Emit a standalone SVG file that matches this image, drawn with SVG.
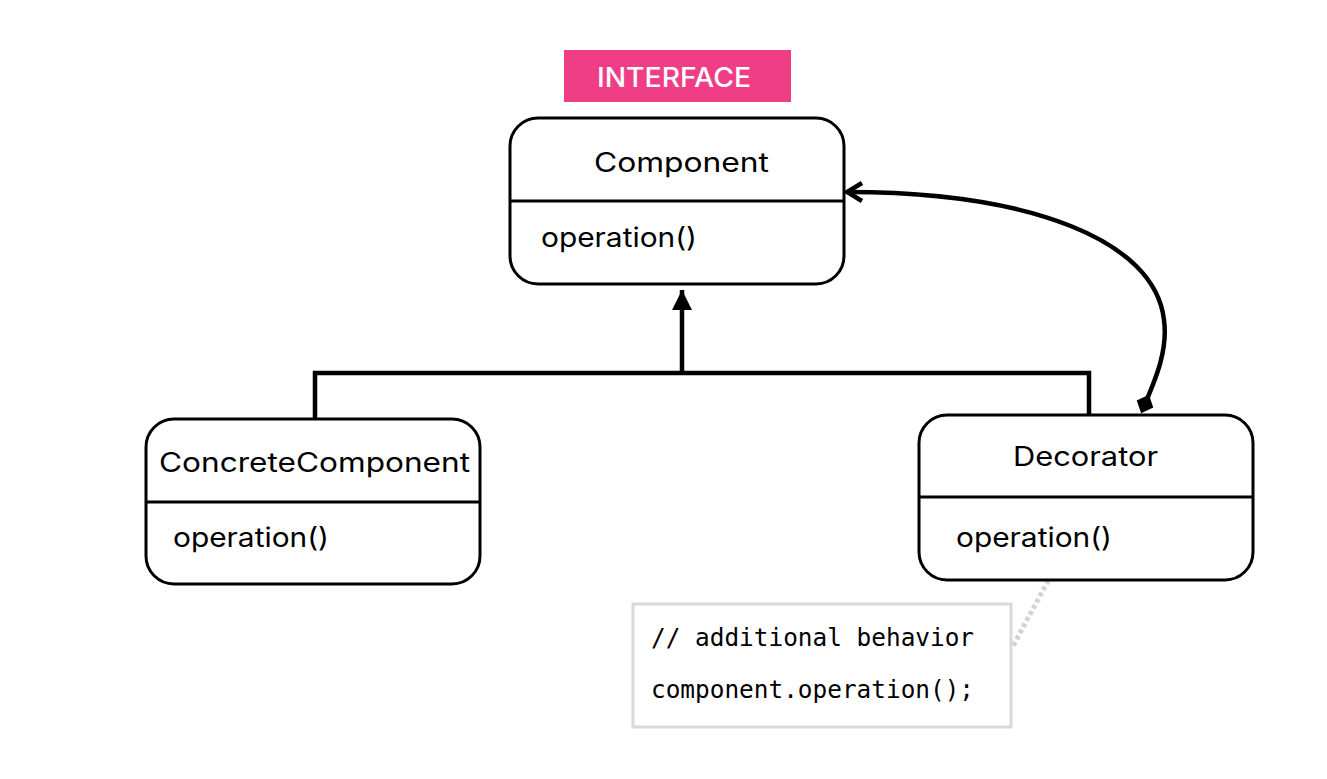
<svg xmlns="http://www.w3.org/2000/svg" width="1327" height="779" viewBox="0 0 1327 779">
<style>
.box{fill:#fff;stroke:#000;stroke-width:3}
.div{stroke:#000;stroke-width:3}
.t{font-family:Inter,"Open Sans",sans-serif;font-size:27px;font-weight:400;fill:#000}
.conn{fill:none;stroke:#000;stroke-width:4.5}
.code{font-family:"DejaVu Sans Mono",monospace;font-size:24.4px;fill:#000}
</style>
<defs>
<marker id="tri" markerWidth="24" markerHeight="24" viewBox="0 0 24 24" refX="22" refY="12" orient="auto" markerUnits="userSpaceOnUse">
<path d="M2,2 L22,12 L2,22 Z" fill="#000"/>
</marker>
<marker id="open" markerWidth="24" markerHeight="24" viewBox="0 0 24 24" refX="21" refY="12" orient="auto" markerUnits="userSpaceOnUse">
<path d="M6,3 L21,12 L6,21" fill="none" stroke="#000" stroke-width="4.5"/>
</marker>
<marker id="dia" markerWidth="24" markerHeight="24" viewBox="0 0 24 24" refX="12" refY="12" orient="auto" markerUnits="userSpaceOnUse">
<path d="M2,12 L12,3 L22,12 L12,21 Z" fill="#000"/>
</marker>
</defs>
<g id="interface-label">
<rect x="564" y="50" width="227" height="52" fill="#ef3e86"/>
<text x="597" y="87" textLength="154" lengthAdjust="spacingAndGlyphs" font-family="Inter,'Open Sans',sans-serif" font-size="27" font-weight="500" fill="#fff">INTERFACE</text>
</g>
<g id="connectors">
<path class="conn" d="M315,419 V373 H1089 V415"/>
<path class="conn" d="M682,373 V290" marker-end="url(#tri)"/>
<path class="conn" d="M1145,404 C1156,378 1168,350 1164,320 C1155,240 1030,192 847,192" marker-end="url(#open)" marker-start="url(#dia)"/>
<path d="M1055,568 L1013,646" fill="none" stroke="#d3d3d3" stroke-width="5" stroke-dasharray="4 3"/>
</g>
<g id="component">
<rect class="box" x="510" y="118" width="334" height="166" rx="28"/>
<line class="div" x1="510" y1="201" x2="844" y2="201"/>
<text class="t" x="594" y="172" textLength="175" lengthAdjust="spacingAndGlyphs">Component</text>
<text class="t" x="541" y="247" textLength="156" lengthAdjust="spacingAndGlyphs">operation()</text>
</g>
<g id="concrete-component">
<rect class="box" x="146" y="419" width="334" height="165" rx="28"/>
<line class="div" x1="146" y1="502" x2="480" y2="502"/>
<text class="t" x="159" y="472" textLength="311" lengthAdjust="spacingAndGlyphs">ConcreteComponent</text>
<text class="t" x="173" y="547" textLength="156" lengthAdjust="spacingAndGlyphs">operation()</text>
</g>
<g id="decorator">
<rect class="box" x="919" y="415" width="334" height="165" rx="28"/>
<line class="div" x1="919" y1="497" x2="1253" y2="497"/>
<text class="t" x="1013" y="466" textLength="145" lengthAdjust="spacingAndGlyphs">Decorator</text>
<text class="t" x="956" y="547" textLength="156" lengthAdjust="spacingAndGlyphs">operation()</text>
</g>
<g id="note">
<rect x="633" y="604" width="378" height="123" fill="#fff" stroke="#d9d9d9" stroke-width="3"/>
<text class="code" x="651" y="646">// additional behavior</text>
<text class="code" x="651" y="698">component.operation();</text>
</g>
</svg>
